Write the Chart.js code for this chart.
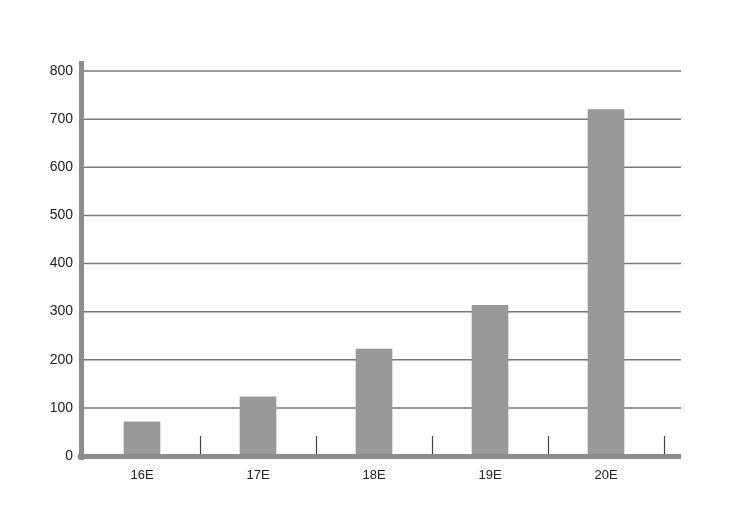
<!DOCTYPE html>
<html lang="en">
<head>
    <meta charset="UTF-8">
    <title>Bar chart</title>
    <script src="https://cdn.jsdelivr.net/npm/chart.js"></script>
    <style>
        html, body { margin: 0; padding: 0; background: #fff; }
        #wrap { width: 740px; height: 523px; }
    </style>
</head>
<body>
<div id="wrap"><canvas id="barChart" width="740" height="523"></canvas></div>
<script>
    const categories = ['16E', '17E', '18E', '19E', '20E'];
    const values = [71, 123, 222, 313, 720];
    const yTicks = [0, 100, 200, 300, 400, 500, 600, 700, 800];

    // gridlines run a bit past the last category, axes are thick grey bars
    const decorPlugin = {
        id: 'decor',
        beforeDatasetsDraw(chart) {
            const { ctx, chartArea, scales } = chart;
            ctx.save();
            ctx.strokeStyle = '#777777';
            ctx.lineWidth = 1.5;
            yTicks.forEach(v => {
                if (v === 0) return;
                const y = scales.y.getPixelForValue(v);
                ctx.beginPath();
                ctx.moveTo(chartArea.left, y);
                ctx.lineTo(chartArea.right + 17, y);
                ctx.stroke();
            });
            // small ticks between categories
            ctx.strokeStyle = '#444444';
            ctx.lineWidth = 1.2;
            for (let i = 1; i <= categories.length; i++) {
                const a = scales.x.getPixelForValue(i - 1);
                const b = i < categories.length ? scales.x.getPixelForValue(i) : a + (a - scales.x.getPixelForValue(i - 2));
                const x = Math.round((a + b) / 2) + 0.5;
                ctx.beginPath();
                ctx.moveTo(x, chartArea.bottom - 20);
                ctx.lineTo(x, chartArea.bottom);
                ctx.stroke();
            }
            ctx.restore();
        },
        afterDatasetsDraw(chart) {
            const { ctx, chartArea } = chart;
            ctx.save();
            ctx.fillStyle = '#8c8c8c';
            ctx.fillRect(chartArea.left - 5, chartArea.top - 10, 5, chartArea.bottom - chartArea.top + 14);
            ctx.fillRect(chartArea.left - 6, chartArea.bottom - 2, chartArea.right + 17 - chartArea.left + 6, 5);
            ctx.restore();
        }
    };

    new Chart(document.getElementById('barChart').getContext('2d'), {
        type: 'bar',
        data: {
            labels: categories,
            datasets: [{
                data: values,
                backgroundColor: '#999999',
                borderWidth: 0,
                barThickness: 36
            }]
        },
        options: {
            responsive: false,
            animation: false,
            layout: { padding: { top: 71, right: 76, left: 2, bottom: 0 } },
            plugins: { legend: { display: false }, tooltip: { enabled: false } },
            scales: {
                x: {
                    grid: { display: false, drawTicks: false },
                    border: { display: false },
                    ticks: { color: '#222', font: { family: 'Liberation Sans', size: 13 }, padding: 12 },
                    afterFit(scale) { scale.height = 67; }
                },
                y: {
                    min: 0,
                    max: 800,
                    afterBuildTicks(scale) { scale.ticks = yTicks.map(v => ({ value: v })); },
                    grid: { display: false, drawTicks: false },
                    border: { display: false },
                    ticks: { color: '#222', font: { family: 'Liberation Sans', size: 14 }, padding: 11 },
                    afterFit(scale) { scale.width = 82; }
                }
            }
        },
        plugins: [decorPlugin]
    });
</script>
</body>
</html>
